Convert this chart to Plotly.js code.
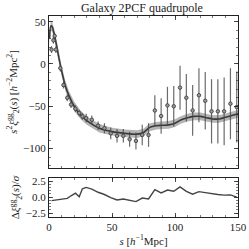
<!DOCTYPE html>
<html><head><meta charset="utf-8">
<script src="https://cdn.plot.ly/plotly-3.0.1.min.js"></script>
<style>html,body{margin:0;padding:0;background:#fff}#c{width:249px;height:249px}</style>
</head><body><div id="c"></div>
<script>
// data points
const s_data = [2, 3.5, 4.5, 5.5, 9, 11.5, 14.5, 17.5, 21, 24, 26.5, 29.5, 34, 39, 44, 49, 54, 59, 64, 69, 74, 79, 84, 89, 94, 99, 104, 109, 114, 119, 124, 129, 134, 139, 144, 149];
const xi_data = [17, 28, 33, 17, -5, -25, -40, -48, -53, -58, -62, -64, -66, -73, -76, -82, -85, -85, -89, -91, -84, -84, -55, -61.5, -49, -50, -28, -40, -55, -37, -43.5, -56, -56, -56, -47, -51];
const xi_err = [4, 4, 4, 4, 4, 4, 4, 4, 4, 4, 4, 5, 5, 5, 6, 7, 8, 8, 9, 10, 12, 14, 18, 21, 22, 24, 26, 28, 30, 32, 34, 38, 38, 40, 42, 42];
const resid = [-0.55, -0.5, -0.5, -0.45, -0.4, -0.35, -0.2, 0.2, 0.6, 0.05, 1.3, 1.5, 1.25, 0.75, 0.4, -0.1, -0.45, -0.3, -0.55, -0.7, -0.15, -0.3, 1.15, 0.65, 1.1, 0.9, 1.6, 0.9, 0.45, 0.85, 0.7, 0.5, 0.4, 0.3, 0.35, 0.0];
// model
const s_model = [0.5, 1.5, 2.5, 4, 6, 8, 10, 13, 16, 20, 25, 30, 35, 40, 50, 60, 70, 75, 80, 85, 90, 95, 100, 105, 110, 115, 120, 125, 130, 135, 140, 145, 150];
const xi_model = [30, 45, 44, 36, 22, 6, -8, -26, -38, -50, -60, -67, -72, -76, -80, -82, -83, -81, -75, -73, -72.5, -72, -70, -66, -63.5, -62, -62, -63.5, -65, -65, -63, -61, -59];
const model_band = [6, 6, 6, 6, 6, 6, 6, 6, 5.5, 5.5, 5, 5, 5, 5, 4.5, 4.5, 4.5, 4.5, 4.5, 4.5, 4.5, 4.5, 4.5, 4.5, 4.5, 4.5, 4.5, 4.5, 4.5, 4.5, 4.5, 4.5, 4.5];

const upper = xi_model.map((v,i)=>v+model_band[i]);
const lower = xi_model.map((v,i)=>v-model_band[i]);

const F = "Liberation Serif, DejaVu Serif, serif";
const traces = [
  {x:s_model, y:lower, mode:'lines', line:{width:0}, hoverinfo:'skip', showlegend:false, xaxis:'x', yaxis:'y'},
  {x:s_model, y:upper, mode:'lines', line:{width:0}, fill:'tonexty', fillcolor:'rgba(120,120,120,0.55)', showlegend:false, xaxis:'x', yaxis:'y'},
  {x:s_model, y:xi_model, mode:'lines', line:{color:'#3a3a3a', width:1.6, shape:'spline'}, showlegend:false, xaxis:'x', yaxis:'y'},
  {x:s_data, y:xi_data, mode:'markers', error_y:{type:'data', array:xi_err, color:'rgba(70,70,70,0.8)', thickness:1.2, width:0},
   marker:{size:3.5, color:'#999', line:{color:'#404040', width:0.9}}, showlegend:false, xaxis:'x', yaxis:'y'},
  {x:s_data, y:resid, mode:'lines', line:{color:'#444', width:1.4}, showlegend:false, xaxis:'x2', yaxis:'y2'}
];
const axBase = {showline:true, linecolor:'#222', linewidth:1, mirror:'allticks', ticks:'inside', ticklen:4, tickwidth:0.8, tickcolor:'#222',
  zeroline:false, showgrid:false, tickfont:{family:F, size:11, color:'#222'}};
const layout = {
  width:249, height:249, margin:{l:49, r:11, t:16, b:32}, paper_bgcolor:'#fff', plot_bgcolor:'#fff',
  title:{text:'Galaxy 2PCF quadrupole', font:{family:F, size:12, color:'#222'}, x:0.57, xanchor:'center', y:0.985, yanchor:'top'},
  xaxis:Object.assign({}, axBase, {domain:[0,1], anchor:'y', range:[0,150], tickvals:[0,50,100,150], showticklabels:false,
    minor:{dtick:10, ticks:'inside', ticklen:2, tickwidth:0.6, tickcolor:'#222'}}),
  yaxis:Object.assign({}, axBase, {domain:[0.2438,1], anchor:'x', range:[-123,56.7], tickvals:[-100,-50,0,50],
    ticktext:['\u2212100','\u221250','0','50'],
    minor:{dtick:10, ticks:'inside', ticklen:2, tickwidth:0.6, tickcolor:'#222'},
    title:{text:'<i>s</i><sup>2</sup><i>\u03be</i><sup>gg</sup><sub>2</sub>(<i>s</i>) [<i>h</i><sup>\u22122</sup>Mpc<sup>2</sup>]', font:{family:F, size:11, color:'#222'}, standoff:3}}),
  xaxis2:Object.assign({}, axBase, {domain:[0,1], anchor:'y2', range:[0,150], tickvals:[0,50,100,150], matches:'x',
    minor:{dtick:10, ticks:'inside', ticklen:2, tickwidth:0.6, tickcolor:'#222'},
    title:{text:'<i>s</i> [<i>h</i><sup>\u22121</sup>Mpc]', font:{family:F, size:11, color:'#222'}, standoff:4}}),
  yaxis2:Object.assign({}, axBase, {domain:[0,0.194], anchor:'x2', range:[-3.1,2.97], tickvals:[-2.5,0,2.5],
    ticktext:['\u22122.5','0.0','2.5'],
    minor:{dtick:0.5, ticks:'inside', ticklen:2, tickwidth:0.6, tickcolor:'#222'},
    title:{text:'\u0394<i>\u03be</i><sup>gg</sup><sub>2</sub>(<i>s</i>)/<i>\u03c3</i>', font:{family:F, size:11, color:'#222'}, standoff:3}})
};
Plotly.newPlot('c', traces, layout, {displayModeBar:false, staticPlot:true});
</script></body></html>
